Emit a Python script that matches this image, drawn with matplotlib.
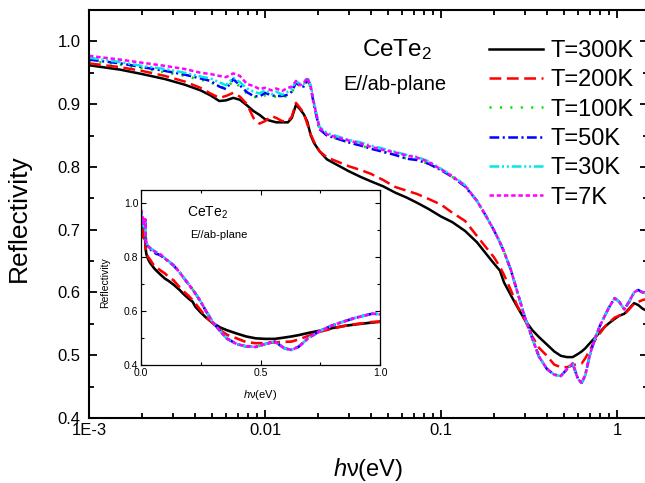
import numpy as np
import matplotlib
matplotlib.use("Agg")
import matplotlib.pyplot as plt
from matplotlib.ticker import LogLocator, NullFormatter, MultipleLocator

plt.rcParams["font.family"] = ["Liberation Sans", "DejaVu Sans"]
plt.rcParams["mathtext.fontset"] = "custom"
plt.rcParams["mathtext.rm"] = "Liberation Sans"
plt.rcParams["mathtext.it"] = "Liberation Sans:italic"
plt.rcParams["lines.scale_dashes"] = False

# photon energy (eV), shared by all curves
energy = [
    0.001, 0.0015, 0.002, 0.0027, 0.0035, 0.0043, 0.0049, 0.0055, 0.006, 0.0066,
    0.0072, 0.0079, 0.0086, 0.0093, 0.010, 0.0109, 0.0116, 0.0125, 0.0135, 0.0142,
    0.0150, 0.0158, 0.0166, 0.0174, 0.0182, 0.019, 0.0204, 0.0225, 0.025, 0.03,
    0.035, 0.04, 0.047, 0.055, 0.064, 0.073, 0.085, 0.1, 0.116, 0.137,
    0.16, 0.18, 0.2, 0.216, 0.228, 0.25, 0.27, 0.3, 0.33, 0.36,
    0.4, 0.44, 0.48, 0.52, 0.56, 0.6, 0.63, 0.66, 0.7, 0.75,
    0.8, 0.85, 0.9, 0.97, 1.03, 1.1, 1.17, 1.25, 1.32, 1.4,
    1.5,
]

R_300K = [
    0.962, 0.955, 0.948, 0.940, 0.931, 0.922, 0.914, 0.905, 0.906, 0.910,
    0.907, 0.898, 0.889, 0.883, 0.876, 0.873, 0.871, 0.871, 0.871, 0.878,
    0.899, 0.892, 0.884, 0.872, 0.850, 0.838, 0.825, 0.812, 0.805, 0.793,
    0.784, 0.777, 0.769, 0.759, 0.751, 0.743, 0.733, 0.721, 0.712, 0.698,
    0.680, 0.662, 0.646, 0.635, 0.616, 0.595, 0.578, 0.556, 0.540, 0.529,
    0.517, 0.506, 0.499, 0.497, 0.497, 0.502, 0.506, 0.511, 0.519, 0.528,
    0.537, 0.545, 0.551, 0.558, 0.563, 0.566, 0.574, 0.583, 0.580, 0.574,
    0.570,
]

R_200K = [
    0.965, 0.959, 0.953, 0.945, 0.936, 0.926, 0.917, 0.910, 0.913, 0.918,
    0.912, 0.900, 0.878, 0.869, 0.873, 0.881, 0.878, 0.873, 0.873, 0.880,
    0.902, 0.894, 0.886, 0.868, 0.852, 0.840, 0.825, 0.815, 0.810, 0.801,
    0.795, 0.789, 0.779, 0.768, 0.762, 0.757, 0.749, 0.740, 0.727, 0.714,
    0.690, 0.672, 0.656, 0.641, 0.628, 0.603, 0.580, 0.556, 0.530, 0.512,
    0.499, 0.485, 0.481, 0.481, 0.484, 0.486, 0.487, 0.495, 0.508, 0.524,
    0.535, 0.545, 0.552, 0.560, 0.563, 0.565, 0.573, 0.582, 0.585, 0.588,
    0.590,
]

# low temperature curves: individual below 0.14 eV, common above
head_100K = [
    0.969, 0.963, 0.957, 0.951, 0.945, 0.939, 0.935, 0.928, 0.925, 0.937,
    0.928, 0.917, 0.912, 0.910, 0.914, 0.912, 0.912, 0.911, 0.913, 0.918,
    0.933, 0.929, 0.927, 0.939, 0.925, 0.897, 0.860, 0.850, 0.846, 0.839,
    0.834, 0.829, 0.824, 0.819, 0.813, 0.811, 0.805, 0.795, 0.784, 0.769,
]
head_50K = [
    0.971, 0.965, 0.959, 0.953, 0.947, 0.941, 0.937, 0.928, 0.924, 0.940,
    0.930, 0.919, 0.913, 0.912, 0.918, 0.914, 0.913, 0.913, 0.915, 0.920,
    0.934, 0.930, 0.928, 0.940, 0.926, 0.898, 0.860, 0.850, 0.846, 0.839,
    0.834, 0.829, 0.824, 0.819, 0.813, 0.811, 0.805, 0.795, 0.784, 0.769,
]
head_30K = [
    0.974, 0.967, 0.961, 0.956, 0.950, 0.944, 0.941, 0.935, 0.930, 0.942,
    0.935, 0.925, 0.920, 0.917, 0.922, 0.916, 0.920, 0.915, 0.920, 0.925,
    0.936, 0.933, 0.932, 0.943, 0.930, 0.902, 0.864, 0.854, 0.850, 0.843,
    0.839, 0.834, 0.829, 0.824, 0.819, 0.816, 0.809, 0.797, 0.786, 0.771,
]
head_7K = [
    0.977, 0.971, 0.966, 0.961, 0.956, 0.950, 0.948, 0.945, 0.943, 0.949,
    0.945, 0.932, 0.929, 0.924, 0.926, 0.922, 0.925, 0.921, 0.926, 0.928,
    0.937, 0.930, 0.934, 0.942, 0.928, 0.900, 0.862, 0.852, 0.848, 0.842,
    0.837, 0.832, 0.827, 0.823, 0.818, 0.815, 0.808, 0.796, 0.785, 0.770,
]
tail_lowT = [
    0.746, 0.722, 0.699, 0.680, 0.665, 0.635, 0.603, 0.560, 0.527, 0.498,
    0.478, 0.469, 0.467, 0.478, 0.487, 0.462, 0.456, 0.468, 0.500, 0.527,
    0.547, 0.562, 0.576, 0.591, 0.585, 0.573, 0.585, 0.600, 0.604, 0.600,
    0.598,
]

labels = ["T=300K", "T=200K", "T=100K", "T=50K", "T=30K", "T=7K"]
series = [R_300K, R_200K, head_100K + tail_lowT, head_50K + tail_lowT,
          head_30K + tail_lowT, head_7K + tail_lowT]
colors = ["black", "#ff0000", "#00e000", "#0000ff", "#00e8e8", "#ff00ff"]
styles = ["-", (0, (8.5, 4)), (0, (1.5, 6)), (0, (7, 2.5, 1.5, 2.5)),
          (0, (7, 2, 1.5, 2, 1.5, 2)), (0, (3.2, 2))]

W, H = 645, 483
fig = plt.figure(figsize=(W / 100, H / 100), dpi=100)

# main axes (right spine falls just outside the picture)
ax = fig.add_axes([89 / W, 1 - 418 / H, (648 - 89) / W, (418 - 10) / H])
for lab, y, c, ls in zip(labels, series, colors, styles):
    ax.plot(energy, y, color=c, ls=ls, lw=1.8, label=lab)

ax.set_xscale("log")
ax.set_xlim(1e-3, 1.5)
ax.set_ylim(0.4, 1.05)
ax.set_xticks([1e-3, 1e-2, 1e-1, 1], labels=["1E-3", "0.01", "0.1", "1"])
ax.xaxis.set_minor_locator(LogLocator(base=10, subs=np.arange(2, 10)))
ax.xaxis.set_minor_formatter(NullFormatter())
ax.yaxis.set_major_locator(MultipleLocator(0.1))
ax.yaxis.set_minor_locator(MultipleLocator(0.05))
ax.tick_params(which="both", direction="in", top=True, right=True,
               width=1.3, labelsize=12)
ax.tick_params(which="major", length=6)
ax.tick_params(which="minor", length=3.5)
ax.tick_params(axis="x", pad=3.5)
ax.tick_params(axis="y", pad=6)
for s in ax.spines.values():
    s.set_linewidth(1.5)

ax.set_xlabel(r"$\mathit{h}$ν(eV)", fontsize=17)
ax.set_ylabel("Reflectivity", fontsize=19)
ax.xaxis.set_label_coords(0.5, -0.092)
ax.yaxis.set_label_coords(-0.104, 0.49)

fig.text(362 / W, 1 - 56 / H, "CeTe$_2$", fontsize=17.5, va="baseline")
fig.text(395 / W, 1 - 90 / H, "E//ab-plane", fontsize=14.5, ha="center",
         va="baseline")

fig.legend(loc="upper left", bbox_to_anchor=(489 / W, 1 - 40 / H),
           frameon=False, fontsize=17, handlelength=2.3, handletextpad=0.3,
           labelspacing=0.31, borderpad=0, borderaxespad=0)

# inset: same data on a linear energy scale
axi = fig.add_axes([141 / W, 1 - 365 / H, (380 - 141) / W, (365 - 190) / H])
for y, c, ls in zip(series, colors, styles):
    axi.plot(energy, y, color=c, ls=ls, lw=1.9)
axi.set_xlim(0, 1.0)
axi.set_ylim(0.4, 1.05)
axi.xaxis.set_major_locator(MultipleLocator(0.5))
axi.xaxis.set_minor_locator(MultipleLocator(0.25))
axi.yaxis.set_major_locator(MultipleLocator(0.2))
axi.yaxis.set_minor_locator(MultipleLocator(0.1))
axi.xaxis.set_major_formatter(lambda v, p: f"{v:.1f}")
axi.yaxis.set_major_formatter(lambda v, p: f"{v:.1f}")
axi.tick_params(which="both", direction="in", top=True, right=True,
                width=0.8, labelsize=7.5, pad=2)
axi.tick_params(which="major", length=3.5)
axi.tick_params(which="minor", length=2)
for s in axi.spines.values():
    s.set_linewidth(0.9)
axi.set_xlabel(r"$\mathit{h}$ν(eV)", fontsize=8)
axi.set_ylabel("Reflectivity", fontsize=7.5)
axi.xaxis.set_label_coords(0.5, -0.13)
axi.yaxis.set_label_coords(-0.13, 0.47)
fig.text(187 / W, 1 - 217 / H, "CeTe$_2$", fontsize=10, va="baseline")
fig.text(190 / W, 1 - 238 / H, "E//ab-plane", fontsize=8, va="baseline")

fig.savefig("out.png", dpi=100)
